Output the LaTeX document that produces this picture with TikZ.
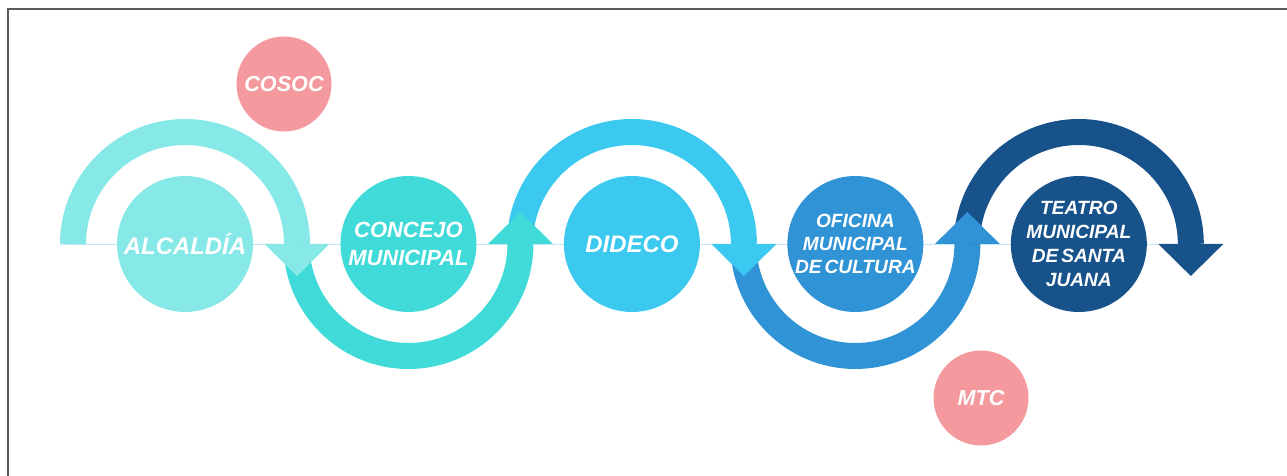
\documentclass[tikz,border=0pt]{standalone}
\usepackage{fontspec}
\setmainfont{Liberation Sans}
\usetikzlibrary{positioning, calc, backgrounds}

\definecolor{alccol}{HTML}{87E9E7}
\definecolor{conccol}{HTML}{40DBD8}
\definecolor{didcol}{HTML}{3BC9F0}
\definecolor{ofccol}{HTML}{2F93D5}
\definecolor{teacol}{HTML}{17538A}
\definecolor{pinkcol}{HTML}{F4999D}
\definecolor{linecol}{HTML}{C4E8F2}
\definecolor{framecol}{HTML}{5A5A5A}

\begin{document}
\begin{tikzpicture}[x=0.02cm, y=0.02cm, node distance=4.47cm]
        \tikzstyle{stage}=[circle, minimum size=2.72cm, inner sep=0pt, align=center, text=white];
        \tikzstyle{extra}=[circle, fill=pinkcol, minimum size=1.9cm, inner sep=0pt, text=white, font=\fontsize{12.3}{14}\selectfont\bfseries\itshape];
        \tikzstyle{ring}=[line width=0.52cm];
        \useasboundingbox (0,0) rectangle (1287,476);
        \draw[framecol, line width=1.1pt] (8,0) -- (8,467) -- (1287,467);

        % stages
        \node[stage, fill=alccol, font=\fontsize{13.6}{16}\selectfont\bfseries\itshape] (alc) at (185,232) {ALCALDÍA};
        \node[stage, fill=conccol, right of=alc, font=\fontsize{12.5}{15.9}\selectfont\bfseries\itshape] (concejo) {CONCEJO\\MUNICIPAL};
        \node[stage, fill=didcol, right of=concejo, font=\fontsize{13.6}{16}\selectfont\bfseries\itshape] (dideco) {DIDECO};
        \node[stage, fill=ofccol, right of=dideco, font=\fontsize{10.9}{13.3}\selectfont\bfseries\itshape] (oficina) {OFICINA\\MUNICIPAL\\DE\hspace{0.15em}CULTURA};
        \node[stage, fill=teacol, right of=oficina, font=\fontsize{10.9}{13.6}\selectfont\bfseries\itshape] (teatro) {TEATRO\\MUNICIPAL\\DE\hspace{0.15em}SANTA\\JUANA};

        \node[extra] (cosoc) at (284,392) {COSOC};
        \node[extra] (mtc) at (981,78) {MTC};

        \begin{scope}[on background layer]
        \draw[linecol, line width=0.5pt] ($(alc)+(-125,0)$) -- ($(teatro)+(125,0)$);

        % rings
        \draw[ring, alccol] ($(alc)+(-112,0)$) arc (180:0:112);
        \draw[ring, conccol] ($(concejo)+(-112,0)$) arc (180:360:112);
        \draw[ring, didcol] ($(dideco)+(-112,0)$) arc (180:0:112);
        \draw[ring, ofccol] ($(oficina)+(-112,0)$) arc (180:360:112);
        \draw[ring, teacol] ($(teatro)+(-112,0)$) arc (180:0:112);

        % heads
        \fill[alccol] ($(alc)+(79.5,0)$) -- ++(65,0) -- ++(-32.5,-32) -- cycle;
        \fill[conccol] ($(concejo)+(79.5,0)$) -- ++(65,0) -- ++(-32.5,32) -- cycle;
        \fill[didcol] ($(dideco)+(79.5,0)$) -- ++(65,0) -- ++(-32.5,-32) -- cycle;
        \fill[ofccol] ($(oficina)+(79.5,0)$) -- ++(65,0) -- ++(-32.5,32) -- cycle;
        \fill[teacol] ($(teatro)+(79.5,0)$) -- ++(65,0) -- ++(-32.5,-32) -- cycle;
        \end{scope}
\end{tikzpicture}
\end{document}
